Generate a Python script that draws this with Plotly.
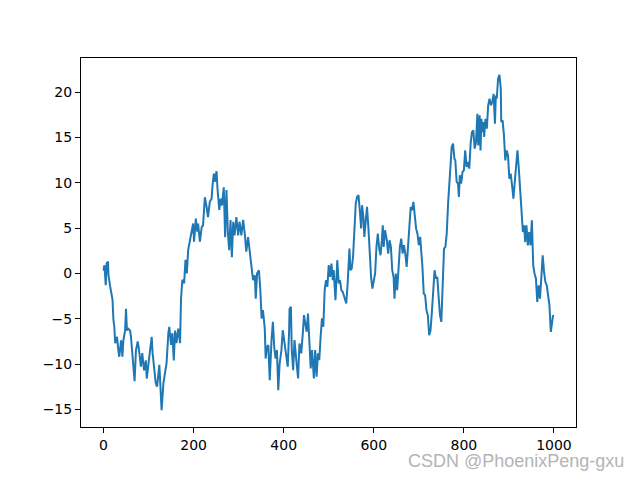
import plotly.graph_objects as go

# random walk, values (step index -> position)
steps = [0, 2, 5, 7, 10, 11, 15, 17, 20, 22, 24, 26, 30, 33, 35, 39, 42, 44, 48, 50,
         52, 55, 59, 61, 63, 66, 69, 72, 76, 79, 83, 86, 90, 94, 96, 100, 103, 107, 109, 113,
         116, 119, 122, 124, 126, 129, 133, 137, 140, 144, 146, 150, 153, 156, 159, 162, 166, 170, 172, 175,
         179, 182, 185, 188,
         199, 201, 205, 208, 210, 214, 218, 221, 225, 229, 232, 236, 240, 242, 245, 247, 251, 253, 257, 260,
         263, 267, 270, 273, 276, 279, 282, 285, 288, 291, 295, 299, 302, 306, 310, 314, 317, 321, 325, 328,
         332, 336, 338, 341, 345, 348, 351, 354, 358, 360, 363, 366, 369, 373, 376, 379, 382, 385, 388, 391,
         395, 398, 402, 406, 409, 412, 413,
         416, 418, 421, 424, 428, 432, 435, 439, 443, 445, 448, 451, 454, 457, 460, 463, 465, 467, 470, 473,
         476, 479, 482, 485, 488, 491, 494, 497, 500, 503, 506, 509, 511, 515, 519, 522, 525, 528, 531, 535,
         539, 542, 546, 548, 551, 554, 557, 560, 563, 566, 569, 572, 574, 577, 579, 582, 585, 588, 591, 594,
         597, 600, 603, 606, 609, 612, 615, 618,
         620, 622, 625, 629, 632, 635, 638, 641, 644, 646, 649, 652, 655, 658, 661, 664, 667, 670, 673, 676,
         679, 682, 685, 688, 691, 694, 697, 700, 703, 706, 708, 711, 714, 717, 720, 723, 726, 729, 732, 735,
         738, 741, 744, 747, 750, 753, 756, 759, 762, 765, 768, 770, 773, 776, 779, 781, 784, 787, 789, 791,
         794, 797, 800, 803, 806, 809, 812, 815, 818, 821, 824, 827,
         830, 832, 835, 837, 839, 841, 843, 845, 848, 851, 854, 857, 860, 863, 866, 869, 871, 873, 876, 879,
         882, 883, 886, 889, 892, 895, 898, 901, 904, 907, 910, 913, 916, 919, 922, 925, 928, 931, 934, 936,
         939, 942, 945, 948, 951, 954, 957, 960, 963, 966, 969, 972, 975, 978, 981, 984, 987, 990, 993, 995,
         998, 999]

walk = [0.3, 0.9, -1.3, 1.1, 1.3, -0.2, -1.5, -2.0, -2.9, -5.1, -5.9, -7.7, -7.0, -8.5, -9.2, -7.4, -9.2, -7.4, -6.3, -3.9,
        -6.3, -6.1, -6.3, -7.0, -8.5, -9.6, -11.9, -8.5, -7.5, -8.5, -10.3, -8.8, -10.7, -9.6, -11.6, -9.9, -8.5, -7.0, -8.8, -10.7,
        -12.1, -12.5, -11.0, -10.1, -12.1, -15.1, -12.1, -11.0, -9.9, -6.6, -5.9, -7.9, -6.6, -9.6, -6.3, -7.7, -6.1, -7.7, -2.9, -0.7,
        -1.1, 1.5, 0.0, 2.6,
        5.5, 3.5, 6.05, 4.6, 5.5, 3.5, 5.1, 5.3, 8.4, 7.3, 6.2, 7.9, 8.25, 9.7, 11.0, 10.1, 11.27, 9.4, 7.0, 8.25,
        7.5, 9.5, 4.0, 9.2, 4.6, 2.55, 5.9, 1.8, 5.7, 4.2, 6.2, 4.2, 5.7, 4.2, 5.9, 4.2, 2.4, 4.0, 2.2, 0.53,
        -0.75, -0.2, -2.8, 0.0, 0.35, -1.67, -4.98, -4.06, -6.08, -9.4, -8.1, -7.9, -11.8, -7.37, -5.35, -8.1, -9.4, -8.47, -12.9, -9.95,
        -8.47, -6.27, -7.9, -9.4, -10.3, -6.45, -3.9,
        -3.69, -8.47, -10.67, -7.36, -9.57, -11.59, -7.73, -8.83, -6.26, -4.61, -5.53, -6.44, -4.42, -6.99, -10.49, -8.47, -9.94, -11.59, -8.47, -11.41,
        -8.83, -9.57, -6.99, -4.97, -5.89, -1.85, -0.75, -1.48, 0.91, -0.38, 1.09, -0.75, 0.36, -2.95, 1.46, -1.11, -0.75, -1.85, -2.03, -2.58,
        -3.32, -1.11, 2.75, 0.36, 0.54, 1.83, 5.14, 7.71, 8.44, 8.63, 6.97, 4.95, 7.53, 6.24, 4.03, 5.5, 7.34, 5.14, 1.83, -0.38,
        -1.67, -0.56, -0.01, 2.93, 4.4, 2.75, 2.01, 3.67,
        5.31, 2.92, 4.76, 3.66, 2.19, 3.66, 2.92, 0.35, -0.39, -2.78, -0.02, -1.86, 1.08, 2.92, 3.84, 2.19, 3.11, 2.19, 0.72, 2.56,
        5.13, 7.33, 6.97, 7.89, 6.23, 4.94, 4.39, 3.11, 4.03, 2.19, 0.72, -2.22, -2.41, -4.06, -4.61, -6.82, -6.27, -4.25, -1.86, 0.35,
        -0.57, -0.39, -2.59, -4.61, -5.35, -1.49, 2.74, 2.92, 4.39, 7.7, 10.46, 11.01, 13.95, 14.32, 12.66, 12.48, 10.09, 9.91, 8.44, 10.83,
        9.91, 11.19, 11.38, 13.58, 11.75, 12.3, 11.56, 14.32, 15.6, 15.79, 13.77, 14.5,
        17.62, 14.13, 17.44, 13.57, 17.07, 15.6, 16.7, 15.05, 17.07, 15.97, 18.54, 19.27, 18.54, 18.91, 19.82, 16.52, 19.64, 19.27, 21.48, 21.92,
        20.38, 16.7, 16.88, 15.23, 12.47, 13.57, 13.02, 10.45, 11.0, 9.71, 8.24, 10.08, 11.92, 13.57, 11.55, 9.53, 6.77, 4.57, 5.3, 3.46,
        5.3, 3.1, 4.57, 3.1, 5.85, 0.89, -0.03, -0.58, -3.15, -1.31, -2.78, -0.03, 1.99, 0.16, -0.95, -1.31, -2.42, -3.52, -6.46, -5.36,
        -4.62, -4.7]

x_ticks = [0, 200, 400, 600, 800, 1000]
y_ticks = [-15, -10, -5, 0, 5, 10, 15, 20]

ypad = (max(walk) - min(walk)) * 0.05
xpad = (max(steps) - min(steps)) * 0.05

fig = go.Figure()
fig = fig.add_trace(
            go.Scatter(
                x=steps,
                y=walk,
                mode='lines',
                line=dict(color='#1f77b4', width=2),
                )
                )
fig = fig.update_xaxes(range=[min(steps) - xpad, max(steps) + xpad],
                       tickvals=x_ticks,
                       showgrid=False, zeroline=False,
                       showline=True, linecolor='black', linewidth=1, mirror=True,
                       ticks='outside', ticklen=5, tickcolor='black',
                       tickfont=dict(size=14, color='black'))
fig = fig.update_yaxes(range=[min(walk) - ypad, max(walk) + ypad],
                       tickvals=y_ticks,
                       showgrid=False, zeroline=False,
                       showline=True, linecolor='black', linewidth=1, mirror=True,
                       ticks='outside', ticklen=5, tickcolor='black',
                       tickfont=dict(size=14, color='black'))
# page body adds an 8px margin, so the figure is 16px smaller than the window
fig = fig.update_layout(
                width=624, height=464,
                margin=dict(l=73, r=56, t=50, b=45),
                paper_bgcolor='white',
                plot_bgcolor='white',
                showlegend=False,
                font=dict(family='DejaVu Sans'),
                annotations=[dict(
                    text='CSDN @PhoenixPeng-gxu',
                    xref='paper', yref='paper',
                    x=1.1, y=-0.092,
                    xanchor='right', yanchor='middle',
                    showarrow=False,
                    font=dict(size=18, color='#b4b4b4', family='Liberation Sans')
                )]
                )

fig.write_html("out.html")
